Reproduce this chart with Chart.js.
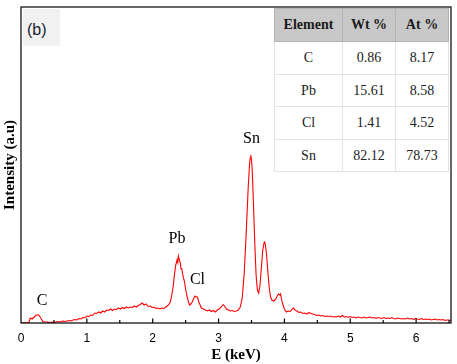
<!DOCTYPE html>
<html>
<head>
<meta charset="utf-8">
<script src="https://cdn.jsdelivr.net/npm/chart.js@4"></script>
<style>
  html, body { margin: 0; padding: 0; background: #fff; }
  #wrap { position: relative; width: 457px; height: 364px; }
  #c { position: absolute; left: 0; top: 0; }
  #tag { position: absolute; left: 23px; top: 9px; width: 37px; height: 37px; background: #f1f1f1;
         font-family: "Liberation Sans", Arial, sans-serif; font-size: 16px; line-height: 41px; color: #1c1c30;
         padding-left: 4px; box-sizing: border-box; }
  #tbl { position: absolute; left: 274px; top: 8px; border-collapse: collapse; background: #fff;
         font-family: "Liberation Serif", "Times New Roman", serif; font-size: 14px; color: #222;
         border: 1px solid #9a9a9a; }
  #tbl td, #tbl th { border: 1px solid #e2e2e2; text-align: center; padding: 0; }
  #tbl th { background: #c8c8c8; font-weight: bold; border-color: #b4b4b4; color: #1a1a1a; }
</style>
</head>
<body>
<div id="wrap">
  <canvas id="c" width="457" height="364"></canvas>
  <div id="tag">(b)</div>
  <table id="tbl"></table>
</div>
<script>
// ---- data ----
const energyKeV = [
  0.00,0.12,0.14,0.17,0.20,0.23,0.27,0.30,0.33,0.37,
  0.40,0.43,0.46,0.49,0.52,0.55,0.58,0.61,0.64,0.67,0.70,0.73,0.76,0.79,
  0.82,0.85,0.88,0.91,0.94,0.97,1.00,1.03,1.06,1.09,1.12,1.15,1.18,1.21,
  1.24,1.27,1.30,1.33,1.36,1.39,1.42,1.45,1.48,1.51,1.54,1.57,1.60,1.63,
  1.66,1.69,1.72,1.75,1.78,1.81,1.84,1.87,1.90,1.93,1.96,1.99,2.02,2.05,
  2.08,2.11,2.14,2.17,2.20,2.23,2.26,
  2.27,2.29,2.31,2.33,2.35,2.37,2.38,2.39,2.40,2.42,2.43,2.44,2.46,2.48,2.50,2.52,2.54,2.56,
  2.58,2.60,2.62,2.64,2.66,2.68,2.70,2.72,2.74,2.77,
  2.80,2.83,2.86,2.89,2.92,2.95,2.98,3.01,3.04,3.07,3.09,3.12,3.15,3.18,3.21,3.24,3.27,3.30,3.33,
  3.36,3.39,3.42,3.45,3.47,3.48,3.49,3.50,3.51,3.53,3.55,3.57,3.59,3.61,
  3.63,3.65,3.67,3.69,3.70,3.71,3.73,3.75,3.77,3.79,3.81,
  3.84,3.87,3.89,3.91,3.93,3.94,3.97,4.00,4.03,4.06,4.09,4.12,4.14,4.16,4.19,
  4.22,4.25,4.28,4.31,4.34,4.37,4.40,4.43,4.46,4.49,4.52,4.55,4.58,4.61,
  4.64,4.67,4.70,4.73,4.76,4.79,4.82,4.85,4.88,4.91,4.94,4.97,5.00,5.03,
  5.06,5.09,5.12,5.15,5.18,5.21,5.24,5.27,5.30,5.33,5.36,5.39,5.42,5.45,
  5.48,5.51,5.54,5.57,5.60,5.63,5.66,5.69,5.72,5.75,5.78,5.81,5.84,5.87,
  5.90,5.93,5.96,5.99,6.02,6.05,6.08,6.11,6.14,6.17,6.20,6.23,6.26,6.29,
  6.32,6.35,6.38,6.41,6.44,6.47,6.50,6.53,6.56];
const intensity = [
  0,0.5,5,4,6,8,8,5,1.5,1,
  1,0.5,1,0.5,1,1.5,1,1.5,2,1.5,2,2.5,2,3,
  3.5,3,4.5,4,5.5,5,7,6.5,8,7.5,10,9.5,11,10,
  12,11,13,12.5,14,12.5,14,13.5,15,14,15.5,14.5,16,15,
  16,15.5,17,16,17.5,18.5,20,18,19,16.5,17,15.5,16,14.5,
  15,14,15,14.5,16,17.5,20,
  22,28,36,48,58,63,61,67,64,60,54,55,47,42,34,27,22,18,
  19,21,24,27,26,26,21,18,15,14,
  13,12,13,11.5,12.5,11,13,14,16,18.5,17,14,13,12,12.5,11.5,12,13,16,
  25,50,90,135,158,165,168,163,155,120,80,48,33,30,
  38,55,72,80,81,79,68,50,35,26,23,
  22,24,27,29,28,29,20,14,11,12,11.5,14,15,13,12,
  10.5,11,9.5,10,9,10.5,9.5,9,8.5,7.5,8,7,7.5,6.5,
  7,6.5,7,6,6.5,6,7,6,7.5,6,6.5,5.5,6.5,5.5,
  6,5,6,5.5,5,6,5,5.5,6,5,5.5,4.5,5.5,5,
  4.5,5.5,4.5,5,4.5,5.5,4.5,4,5,4.5,4,4.5,4,5,
  4,4.5,3.5,4.5,4,3.5,4.5,3.5,4,3.5,4,3,3.5,4,
  3,3.5,3,3.5,2.5,3,3,2.5,3];
const xTickValues = [0,1,2,3,4,5,6];
const peakNames = ["C","Pb","Cl","Sn"];
const peakLabelE = [0.32, 2.37, 2.68, 3.50];
const peakLabelI = [22, 84, 43, 184];
const tableHeader = ["Element","Wt %","At %"];
const elements = ["C","Pb","Cl","Sn"];
const wtPercent = [0.86, 15.61, 1.41, 82.12];
const atPercent = [8.17, 8.58, 4.52, 78.73];

// ---- table ----
const tbl = document.getElementById('tbl');
const colW = [67, 52, 52];
const rowH = [33, 33, 32, 33, 32];
let html = '<tr style="height:'+rowH[0]+'px">' + tableHeader.map((h,i)=>'<th style="width:'+colW[i]+'px">'+h+'</th>').join('') + '</tr>';
elements.forEach((e,i)=>{
  html += '<tr style="height:'+rowH[i+1]+'px"><td>'+e+'</td><td>'+wtPercent[i].toFixed(2)+'</td><td>'+atPercent[i].toFixed(2)+'</td></tr>';
});
tbl.innerHTML = html;

// ---- chart ----
const framePlugin = {
  id: 'frame',
  afterDatasetsDraw(chart) {
    const {ctx, chartArea: a, scales: {x, y}} = chart;
    ctx.save();
    ctx.strokeStyle = '#000';
    ctx.lineWidth = 1.2;
    ctx.strokeRect(a.left, a.top, a.right - a.left, a.bottom - a.top);
    for (let v = 0; v <= x.max + 1e-9; v += 0.5) {
      const px = x.getPixelForValue(v);
      if (px < a.left + 1 || px > a.right - 1) continue;
      const len = Math.abs(v - Math.round(v)) < 1e-6 ? 4.5 : 3;
      ctx.beginPath();
      ctx.moveTo(px, a.bottom);
      ctx.lineTo(px, a.bottom - len);
      ctx.stroke();
    }
    ctx.fillStyle = '#000';
    ctx.font = '16px "Liberation Serif", "Times New Roman", serif';
    ctx.textAlign = 'center';
    ctx.textBaseline = 'middle';
    peakNames.forEach((n, i) => {
      ctx.fillText(n, x.getPixelForValue(peakLabelE[i]), y.getPixelForValue(peakLabelI[i]));
    });
    ctx.restore();
  }
};

const n = Math.min(energyKeV.length, intensity.length);
new Chart(document.getElementById('c'), {
  type: 'line',
  data: {
    datasets: [{
      data: energyKeV.slice(0, n).map((e, i) => ({x: e, y: intensity[i]})),
      borderColor: '#ff0000',
      borderWidth: 1.1,
      pointRadius: 0,
      tension: 0,
      fill: false
    }]
  },
  options: {
    responsive: false,
    animation: false,
    devicePixelRatio: 1,
    layout: { padding: { top: 7, right: 6, left: 0, bottom: 0 } },
    plugins: { legend: { display: false }, tooltip: { enabled: false } },
    scales: {
      x: {
        type: 'linear', min: 0, max: 6.53,
        afterFit: s => { s.height = 41; },
        afterBuildTicks: s => { s.ticks = xTickValues.map(v => ({value: v})); },
        grid: { display: false, drawTicks: false },
        border: { display: false },
        ticks: { color: '#000', padding: 8, maxRotation: 0, font: { family: '"Liberation Sans", Arial, sans-serif', size: 12 } },
        title: { display: true, text: 'E (keV)', color: '#000', padding: { top: 0, bottom: 0 },
                 font: { family: '"Liberation Serif", "Times New Roman", serif', size: 15, weight: 'bold' } }
      },
      y: {
        min: 0, max: 316,
        afterFit: s => { s.width = 21; },
        grid: { display: false, drawTicks: false },
        border: { display: false },
        ticks: { display: false },
        title: { display: true, text: 'Intensity (a.u)', color: '#000', padding: { top: 1, bottom: 0 },
                 font: { family: '"Liberation Serif", "Times New Roman", serif', size: 15, weight: 'bold' } }
      }
    }
  },
  plugins: [framePlugin]
});
</script>
</body>
</html>
